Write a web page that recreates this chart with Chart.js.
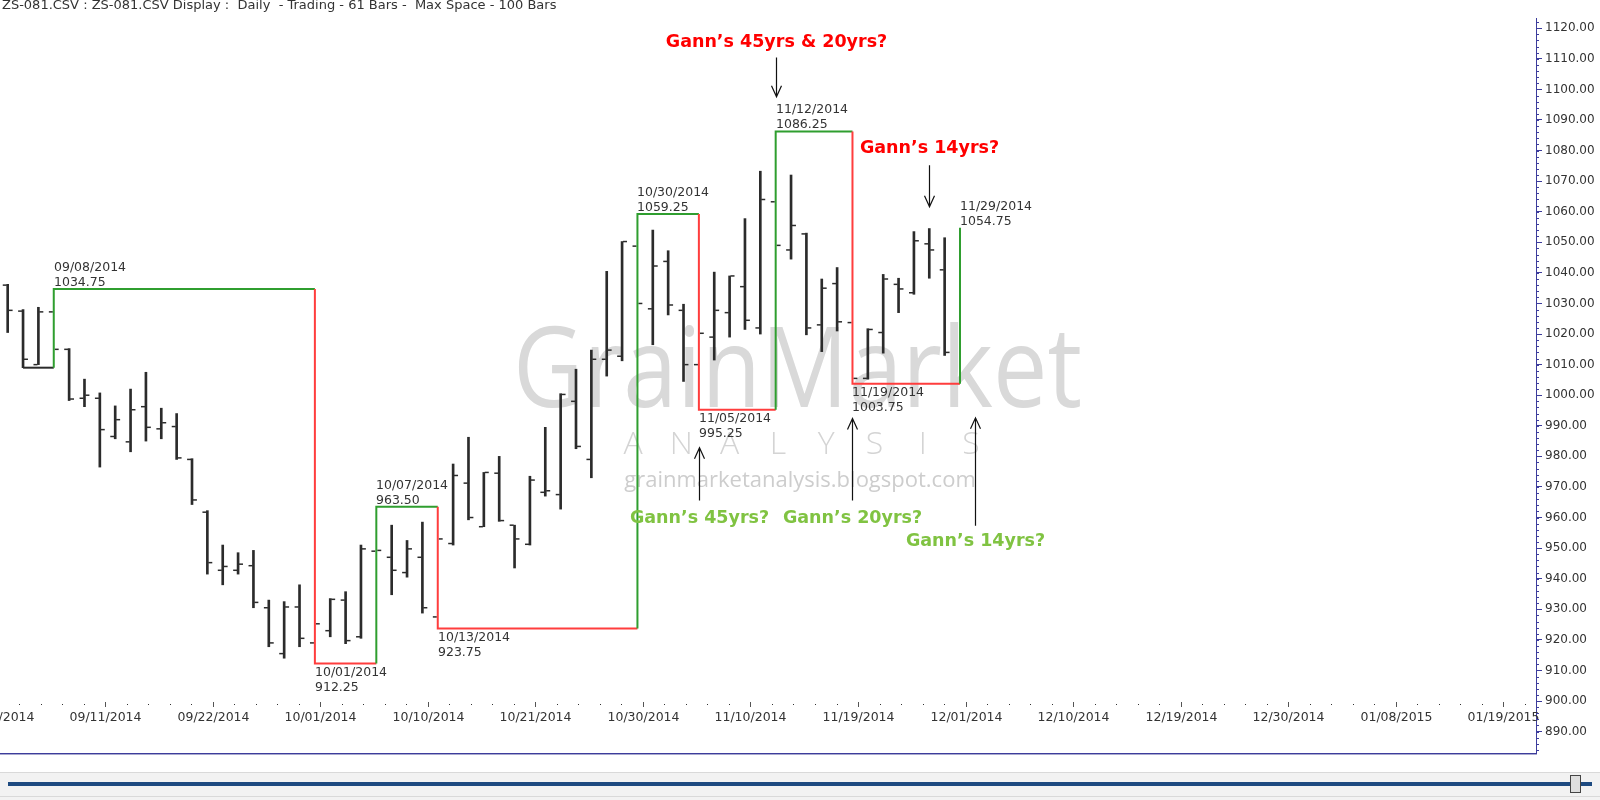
<!DOCTYPE html>
<html>
<head>
<meta charset="utf-8">
<script src="https://cdn.jsdelivr.net/npm/chart.js@4.4.1/dist/chart.umd.min.js"></script>
<style>
  html, body { margin: 0; padding: 0; background: #fff; }
  #wrap { width: 1600px; height: 800px; }
</style>
</head>
<body>
<div id="wrap"><canvas id="grainChart" width="1600" height="800"></canvas></div>
<script>
// daily bars, ZS soybeans, 09/03/2014 .. 11/28/2014 (bar index = position)
const opens = [
  1036, 1027.5, 1010, 1027.25, 1015, 999, 999, 986.5, 984.75, 996.25,
  989, 989.75, 979, 961.75, 942.75, 942.75, 944.25, 930.5, 915.5, 930.75,
  919, 923, 933, 921, 949, 947, 942, 947, 927.5, 951.5,
  971.25, 957, 974.5, 957.5, 951.25, 968.25, 967.5, 998, 979, 1011.75,
  1012.75, 1048.75, 1028.25, 1043.75, 1027.75, 1010, 1019, 1027, 1035.5, 1022,
  1063.25, 1047.5, 1052.75, 1023, 1036.5, 1023.75, 1005.5, 1020.5, 1036.25, 1033.5,
  1049.5, 1041
];
const highs = [
  1036.25, 1028, 1028.75, 1034.75, 1015.25, 1005.25, 1000.75, 996.5, 1002, 1007.5,
  995.75, 994, 979.25, 962.25, 951, 948.5, 949.25, 933, 932.5, 938,
  927, 933.5, 935.75, 951, 963.5, 957.5, 952.5, 958.5, 955, 977.5,
  986.25, 974.75, 980, 957.5, 973.5, 989.5, 1000.5, 1008.5, 1014.75, 1040.5,
  1050.25, 1059.25, 1054, 1047.25, 1029.75, 1022, 1040.25, 1039, 1057.75, 1073.25,
  1086.25, 1072, 1053, 1038, 1041.75, 1025, 1021.75, 1039.5, 1038.25, 1053.5,
  1054.5, 1051.5
];
const lows = [
  1020.5, 1009, 1010, 1014, 998.25, 996.25, 976.5, 985.75, 981.5, 985,
  985.75, 979, 964.25, 941.5, 938, 941.5, 930.5, 917.75, 914, 917.75,
  912.25, 921, 918.75, 920.5, 946, 934.75, 940.5, 928.75, 923.75, 951,
  959.25, 957, 958.75, 943.5, 951, 967, 962.75, 982.5, 973, 1006.25,
  1011.25, 1026, 1016.5, 1026.25, 1004.5, 995.25, 1011.5, 1019, 1021.5, 1020,
  1045, 1044.5, 1019.75, 1014.25, 1021, 1003.75, 1005.25, 1013.75, 1027, 1033,
  1038.25, 1013
];
const closes = [
  1027.75, 1011.75, 1027.25, 1015, 998.75, 1000, 988.75, 992, 995.25, 989.5,
  991, 979.5, 965.75, 945.25, 944, 944.75, 932.25, 919, 930.75, 920.5,
  925.25, 933.25, 919.75, 949.75, 949.25, 942.75, 949.75, 930.5, 953, 973.75,
  960, 974.75, 959, 953, 972.25, 968.75, 1000.25, 983.25, 1011.75, 1014.75,
  1050.25, 1030, 1042.25, 1029.5, 1010, 1020.25, 1027.75, 1039, 1024.5, 1064,
  1049, 1055.5, 1022, 1035, 1024, 1005.5, 1021.5, 1038, 1034.75, 1050.5,
  1047.5, 1014
];

// swing chart pivots
const swingIdx = [1, 3, 20, 24, 28, 41, 45, 50, 55, 62];
const swingPrice = [1009, 1034.75, 912.25, 963.5, 923.75, 1059.25, 995.25, 1086.25, 1003.75, 1054.75];
const swingDates = ['', '09/08/2014', '10/01/2014', '10/07/2014', '10/13/2014', '10/30/2014',
  '11/05/2014', '11/12/2014', '11/19/2014', '11/29/2014'];

// axis labels
const xTickIdx = [-1, 6, 13, 20, 27, 34, 41, 48, 55, 62, 69, 76, 83, 90, 97];
const xTickLabels = ['09/02/2014', '09/11/2014', '09/22/2014', '10/01/2014', '10/10/2014',
  '10/21/2014', '10/30/2014', '11/10/2014', '11/19/2014', '12/01/2014', '12/10/2014',
  '12/19/2014', '12/30/2014', '01/08/2015', '01/19/2015'];
const yTicks = [890, 900, 910, 920, 930, 940, 950, 960, 970, 980, 990, 1000, 1010,
  1020, 1030, 1040, 1050, 1060, 1070, 1080, 1090, 1100, 1110, 1120];

const UP = '#2f9e2f';
const DOWN = '#ff3d3d';
const INK = '#2b2b2b';
const AXIS = '#3c3c9c';
const NOTE_RED = '#ff0000';
const NOTE_GREEN = '#80c342';

const notes = [
  { text: 'Gann’s 45yrs & 20yrs?', color: NOTE_RED, idx: 50, textAt: 1115.3, tail: 1110.4, tip: 1097.6 },
  { text: 'Gann’s 14yrs?', color: NOTE_RED, idx: 60, textAt: 1080.6, tail: 1075.2, tip: 1061.6 },
  { text: 'Gann’s 45yrs?', color: NOTE_GREEN, idx: 45, textAt: 959.6, tail: 965.6, tip: 982.8 },
  { text: 'Gann’s 20yrs?', color: NOTE_GREEN, idx: 55, textAt: 959.6, tail: 965.6, tip: 992.4 },
  { text: 'Gann’s 14yrs?', color: NOTE_GREEN, idx: 63, textAt: 952.1, tail: 957.3, tip: 992.6 }
];

// build the stepped swing path: horizontal keeps the colour of the move before it
const swingPath = [{ x: swingIdx[0], y: swingPrice[0] }];
const swingColors = [];
let lastColor = INK;
for (let k = 1; k < swingIdx.length; k++) {
  swingPath.push({ x: swingIdx[k], y: swingPrice[k - 1] });
  swingColors.push(lastColor);
  const c = swingPrice[k] > swingPrice[k - 1] ? UP : DOWN;
  swingPath.push({ x: swingIdx[k], y: swingPrice[k] });
  swingColors.push(c);
  lastColor = c;
}

// bar bodies on a swing day sit under the swing line
const barColors = highs.map((h, i) => (swingIdx.indexOf(i) > 0 ? 'rgba(0,0,0,0)' : INK));

const tickShift = 0.19;

const extras = {
  id: 'gmExtras',
  beforeDraw(chart) {
    const c = chart.ctx;
    c.save();
    c.fillStyle = '#fff';
    c.fillRect(0, 0, chart.width, chart.height);
    c.restore();
  },
  beforeDatasetsDraw(chart) {
    const c = chart.ctx;
    c.save();
    // watermark
    c.fillStyle = '#d9d9d9';
    c.font = '400 112px "Open Sans"';
    c.textAlign = 'left';
    c.textBaseline = 'alphabetic';
    const w = c.measureText('GrainMarket').width;
    c.save();
    c.translate(513, 407);
    c.scale(569 / w, 1);
    c.fillText('GrainMarket', 0, 0);
    c.restore();
    c.fillStyle = '#d4d4d4';
    c.font = '300 32px "Open Sans"';
    c.textAlign = 'center';
    'ANALYSIS'.split('').forEach((ch, i) => c.fillText(ch, 633 + i * 48.3, 454));
    c.fillStyle = '#cdcdcd';
    c.font = '22px "Open Sans"';
    c.fillText('grainmarketanalysis.blogspot.com', 800, 487);
    c.restore();
  },
  afterDatasetsDraw(chart) {
    const c = chart.ctx, x = chart.scales.x, y = chart.scales.y;
    c.save();
    // swing labels
    c.font = '12.5px "DejaVu Sans"';
    c.fillStyle = '#333';
    c.textAlign = 'left';
    for (let k = 1; k < swingIdx.length; k++) {
      const px = Math.round(x.getPixelForValue(swingIdx[k]));
      const py = y.getPixelForValue(swingPrice[k]);
      const price = swingPrice[k].toFixed(2);
      if (swingPrice[k] > swingPrice[k - 1]) {
        c.textBaseline = 'alphabetic';
        c.fillText(swingDates[k], px, py - 18);
        c.fillText(price, px, py - 3);
      } else {
        c.textBaseline = 'top';
        c.fillText(swingDates[k], px, py + 3);
        c.fillText(price, px, py + 18);
      }
    }
    // notes with arrows
    notes.forEach(n => {
      const px = Math.round(x.getPixelForValue(n.idx)) + 0.5;
      c.font = 'bold 17.5px "DejaVu Sans"';
      c.fillStyle = n.color;
      c.textAlign = 'center';
      c.textBaseline = 'middle';
      c.fillText(n.text, px, y.getPixelForValue(n.textAt));
      const t0 = y.getPixelForValue(n.tail), t1 = y.getPixelForValue(n.tip);
      const dir = t1 > t0 ? 1 : -1;
      c.strokeStyle = '#111';
      c.lineWidth = 1.2;
      c.beginPath();
      c.moveTo(px, t0);
      c.lineTo(px, t1);
      c.moveTo(px - 5, t1 - dir * 11);
      c.lineTo(px, t1);
      c.lineTo(px + 5, t1 - dir * 11);
      c.stroke();
    });
    c.restore();
  },
  afterDraw(chart) {
    const c = chart.ctx, x = chart.scales.x, y = chart.scales.y, a = chart.chartArea;
    c.save();
    // x axis labels drawn inside the plot
    c.font = '12.5px "DejaVu Sans"';
    c.fillStyle = '#333';
    c.textAlign = 'center';
    c.textBaseline = 'middle';
    c.strokeStyle = '#555';
    c.lineWidth = 1;
    xTickIdx.forEach((v, i) => {
      const px = Math.round(x.getPixelForValue(v + 0.36)) + 0.5;
      c.fillText(xTickLabels[i], px, 718);
      c.beginPath();
      c.moveTo(px, 702);
      c.lineTo(px, 707);
      c.stroke();
      for (let m = 1; m < 5; m++) {
        const mx = Math.round(x.getPixelForValue(v + 0.36 + m * 1.4));
        if (mx < a.right - 2) c.fillRect(mx, 704, 1, 1);
      }
    });
    // minor ticks on price axis
    c.strokeStyle = AXIS;
    c.beginPath();
    for (let v = 884; v <= 1122; v += 2) {
      const py = Math.round(y.getPixelForValue(v)) + 0.5;
      c.moveTo(a.right, py);
      c.lineTo(a.right + 3, py);
    }
    c.stroke();
    // frame bottom
    c.fillStyle = AXIS;
    c.fillRect(0, Math.round(a.bottom), Math.round(a.right) + 1, 1);
    c.fillStyle = '#a9a9cf';
    c.fillRect(0, Math.round(a.bottom) + 1, Math.round(a.right) + 1, 1);
    // header
    c.font = '13px "DejaVu Sans"';
    c.fillStyle = '#333';
    c.textAlign = 'left';
    c.textBaseline = 'middle';
    c.fillText('ZS-081.CSV : ZS-081.CSV Display :  Daily  - Trading - 61 Bars -  Max Space - 100 Bars', 2, 6);
    // scroll bar strip
    c.fillStyle = '#f2f2f2';
    c.fillRect(0, 772, chart.width, 28);
    c.fillStyle = '#d9d9d9';
    c.fillRect(0, 772, chart.width, 1);
    c.fillRect(0, 796, chart.width, 1);
    c.fillStyle = '#1d4a80';
    c.fillRect(8, 782, 1584, 4);
    c.fillStyle = '#dedede';
    c.fillRect(1570, 775, 11, 18);
    c.strokeStyle = '#444';
    c.strokeRect(1570.5, 775.5, 10, 17);
    c.restore();
  }
};

new Chart(document.getElementById('grainChart'), {
  type: 'bar',
  data: {
    datasets: [
      {
        type: 'line',
        data: swingPath,
        borderColor: INK,
        borderWidth: 2,
        pointRadius: 0,
        tension: 0,
        segment: { borderColor: s => swingColors[s.p0DataIndex] },
        order: 0
      },
      {
        type: 'scatter',
        data: opens.map((v, i) => ({ x: i - tickShift, y: v })),
        pointStyle: 'line',
        pointRadius: 2,
        pointBorderWidth: 1.5,
        pointBorderColor: INK,
        order: 1
      },
      {
        type: 'scatter',
        data: closes.map((v, i) => ({ x: i + tickShift, y: v })),
        pointStyle: 'line',
        pointRadius: 2,
        pointBorderWidth: 1.5,
        pointBorderColor: INK,
        order: 1
      },
      {
        type: 'bar',
        data: highs.map((h, i) => ({ x: i, y: [lows[i], h] })),
        backgroundColor: barColors,
        barThickness: 2,
        order: 2
      }
    ]
  },
  options: {
    responsive: false,
    animation: false,
    events: [],
    layout: { autoPadding: false, padding: { left: 0, right: 0, top: 18, bottom: 47 } },
    plugins: {
      legend: { display: false },
      tooltip: { enabled: false }
    },
    scales: {
      x: {
        type: 'linear',
        min: -0.5,
        max: 99.5,
        offset: false,
        display: false
      },
      y: {
        position: 'right',
        min: 883,
        max: 1123.35,
        afterFit: s => { s.width = 64; s.paddingTop = 0; s.paddingBottom = 0; },
        afterBuildTicks: s => { s.ticks = yTicks.map(v => ({ value: v })); },
        grid: { drawOnChartArea: false, tickLength: 6, color: AXIS },
        border: { color: AXIS, width: 1 },
        ticks: {
          padding: 3,
          color: '#333',
          font: { family: 'DejaVu Sans', size: 12 },
          callback: v => Number(v).toFixed(2)
        }
      }
    }
  },
  plugins: [extras]
});
</script>
</body>
</html>
